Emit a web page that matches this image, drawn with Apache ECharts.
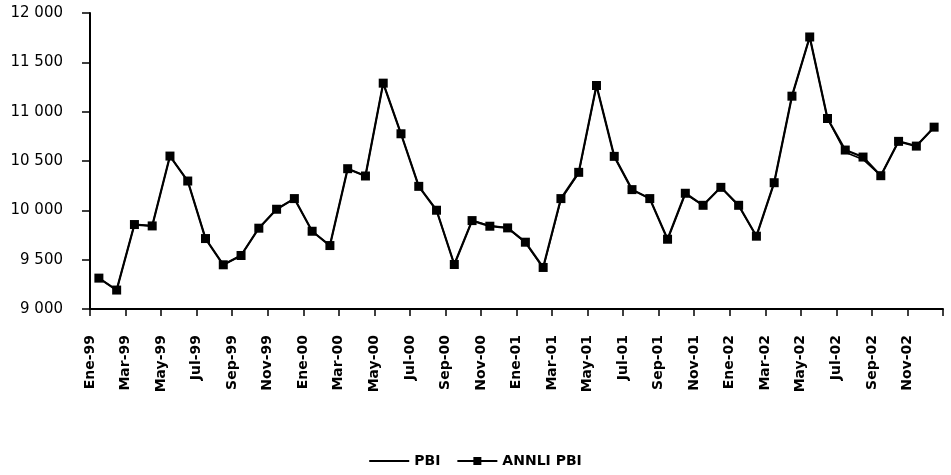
<!DOCTYPE html>
<html>
<head>
<meta charset="utf-8">
<script src="https://cdn.jsdelivr.net/npm/echarts@6/dist/echarts.min.js"></script>
<style>
  html, body { margin: 0; padding: 0; background: #fff; }
  #main { width: 951px; height: 475px; }
</style>
</head>
<body>
<div id="main"></div>
<script>
// meses Ene-99 .. Dic-02
var months = [
  'Ene-99', 'Feb-99', 'Mar-99', 'Abr-99', 'May-99', 'Jun-99', 'Jul-99', 'Ago-99', 'Sep-99', 'Oct-99', 'Nov-99', 'Dic-99',
  'Ene-00', 'Feb-00', 'Mar-00', 'Abr-00', 'May-00', 'Jun-00', 'Jul-00', 'Ago-00', 'Sep-00', 'Oct-00', 'Nov-00', 'Dic-00',
  'Ene-01', 'Feb-01', 'Mar-01', 'Abr-01', 'May-01', 'Jun-01', 'Jul-01', 'Ago-01', 'Sep-01', 'Oct-01', 'Nov-01', 'Dic-01',
  'Ene-02', 'Feb-02', 'Mar-02', 'Abr-02', 'May-02', 'Jun-02', 'Jul-02', 'Ago-02', 'Sep-02', 'Oct-02', 'Nov-02', 'Dic-02'
]
// PBI observado
var pbi = [
  9313, 9192, 9856, 9842, 10550, 10297, 9714, 9448, 9542, 9819, 10011, 10119,
  9788, 9643, 10422, 10348, 11289, 10776, 10243, 10001, 9451, 9896,
  9845, 9822, 9672, 9415, 10110, 10375, 11265, 10547, 10210, 10119, 9707,
  10168, 10051, 10233, 10045, 9738, 10280, 11157, 11757, 10931,
  10588, 10515, 10351, 10699, 10651, 10843
]
// PBI estimado por la red (ANNLI)
var annli = [
  9313, 9192, 9856, 9842, 10550, 10297, 9714, 9448, 9542, 9819, 10011, 10119,
  9788, 9643, 10422, 10348, 11289, 10776, 10243, 10001, 9451, 9896,
  9839, 9822, 9677, 9421, 10119, 10385, 11265, 10547, 10210, 10119, 9707,
  10173, 10051, 10233, 10051, 9738, 10280, 11157, 11757, 10931,
  10611, 10540, 10351, 10699, 10651, 10843
]
var yMin = 9000, yMax = 12000, yStep = 500

function thousands(v) {
  return String(v).replace(/\B(?=(\d{3})+(?!\d))/g, ' ')
}

var chart = echarts.init(document.getElementById('main'), null, { renderer: 'canvas' })
var option = {
  backgroundColor: '#fff',
  animation: false,
  grid: { left: 90, right: 8, top: 13, bottom: 166 },
  legend: {
    bottom: 2,
    left: 'center',
    itemWidth: 40,
    itemHeight: 10,
    itemGap: 16,
    textStyle: { fontFamily: 'DejaVu Sans', fontWeight: 'bold', fontSize: 14, color: '#000' },
    data: [
      { name: 'PBI', icon: 'path://M0,0L40,0L40,2L0,2Z', itemStyle: { color: '#000', opacity: 1 } },
      'ANNLI PBI'
    ]
  },
  xAxis: [
    {
      // eje de datos: cada mes en el centro de su categoria
      type: 'category',
      data: months,
      boundaryGap: true,
      axisLine: { show: false },
      axisTick: { show: false },
      axisLabel: { show: false }
    },
    {
      // eje de rotulos: marcas y textos en los limites, cada 2 meses
      type: 'value',
      min: 0,
      max: months.length,
      interval: 2,
      position: 'bottom',
      splitLine: { show: false },
      axisLine: { show: true, lineStyle: { color: '#000', width: 2 } },
      axisTick: { show: true, length: 7, lineStyle: { color: '#000', width: 1.5 } },
      axisLabel: {
        rotate: 90,
        margin: 26,
        fontFamily: 'DejaVu Sans',
        fontWeight: 'bold',
        fontSize: 14,
        color: '#000',
        formatter: function (v) { return months[v] || '' }
      }
    }
  ],
  yAxis: {
    type: 'value',
    min: yMin,
    max: yMax,
    interval: yStep,
    splitLine: { show: false },
    axisLine: { show: true, lineStyle: { color: '#000', width: 2 } },
    axisTick: { show: true, length: 8, lineStyle: { color: '#000', width: 1.5 } },
    axisLabel: {
      margin: 27,
      fontFamily: 'DejaVu Sans',
      fontSize: 15,
      color: '#000',
      formatter: function (v) { return thousands(v) }
    }
  },
  series: [
    {
      name: 'PBI',
      type: 'line',
      xAxisIndex: 0,
      data: pbi,
      symbol: 'none',
      lineStyle: { color: '#000', width: 1.5 },
      itemStyle: { color: '#000' }
    },
    {
      name: 'ANNLI PBI',
      type: 'line',
      xAxisIndex: 0,
      data: annli,
      symbol: 'rect',
      symbolSize: 9,
      lineStyle: { color: '#000', width: 2.2 },
      itemStyle: { color: '#000' }
    }
  ]
}
chart.setOption(option)
</script>
</body>
</html>
